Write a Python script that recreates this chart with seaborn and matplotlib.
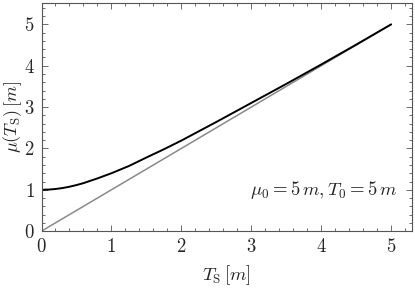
import matplotlib
matplotlib.use('Agg')
import matplotlib.pyplot as plt
from matplotlib.ticker import MultipleLocator, FuncFormatter
import seaborn as sns
import pandas as pd

# Values
T_s = [0.0, 0.1, 0.2, 0.3, 0.4, 0.5, 0.6, 0.8, 1.0, 1.25, 1.5, 1.75,
       2.0, 2.5, 3.0, 3.5, 4.0, 4.5, 5.0]
mu_vals = [1.0, 1.005, 1.019, 1.042, 1.074, 1.114, 1.161, 1.275, 1.40,
           1.575, 1.78, 1.98, 2.19, 2.64, 3.10, 3.56, 4.03, 4.51, 5.0]
diag_T = [0.0, 5.0]
diag_mu = [0.0, 5.0]
ticks = [0, 1, 2, 3, 4, 5]
note = r'$\mu_0 = 5\,m, T_0 = 5\,m$'

sns.set_style('ticks')
plt.rcParams['font.family'] = ['DejaVu Serif']
plt.rcParams['mathtext.fontset'] = 'cm'

curve = pd.DataFrame({'T': T_s, 'mu': mu_vals})
diag = pd.DataFrame({'T': diag_T, 'mu': diag_mu})

fig = plt.figure(figsize=(4.15, 2.9), dpi=100)
ax = fig.add_axes([0.1, 0.203, 0.893, 0.787])

sns.lineplot(data=diag, x='T', y='mu', ax=ax, color='#8a8a8a', lw=1.1)
sns.lineplot(data=curve, x='T', y='mu', ax=ax, color='black', lw=1.4)

ax.set_xlim(0, 5.3)
ax.set_ylim(0, 5.52)
ax.set_xticks(ticks)
ax.set_yticks(ticks)
ax.xaxis.set_minor_locator(MultipleLocator(0.2))
ax.yaxis.set_minor_locator(MultipleLocator(0.2))
fmt = FuncFormatter(lambda v, p: r'$%d$' % round(v))
ax.xaxis.set_major_formatter(fmt)
ax.yaxis.set_major_formatter(fmt)

frame_col = '#555555'
for sp in ax.spines.values():
    sp.set_color(frame_col)
    sp.set_linewidth(0.8)
ax.tick_params(which='both', direction='in', top=True, right=True,
               color=frame_col, width=0.6, labelsize=13.5)
ax.tick_params(which='major', length=4, pad=5)
ax.tick_params(which='minor', length=2.2)

ax.set_xlabel(r'$T_\mathrm{S}\,[m]$', fontsize=13.5)
ax.set_ylabel(r'$\mu(T_\mathrm{S})\,[m]$', fontsize=13)
ax.xaxis.set_label_coords(0.5, -0.14)
ax.yaxis.set_label_coords(-0.048, 0.5)

ax.text(5.09, 1.0, note, ha='right', va='center', fontsize=13.5)

fig.savefig('out.png', dpi=100)
